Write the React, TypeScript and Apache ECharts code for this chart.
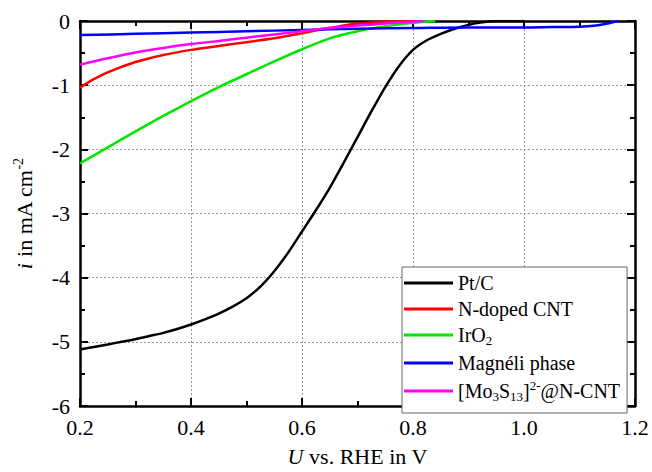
import React, { useEffect, useRef } from "react";
import * as echarts from "echarts";

const seriesNames = ["Pt/C", "N-doped CNT", "IrO2", "Magnéli phase", "[Mo3S13]2-@N-CNT"];
const legendLabels = [
  "Pt/C",
  "N-doped CNT",
  "IrO{sub|2}",
  "Magnéli phase",
  "[Mo{sub|3}S{sub|13}]{sup|2-}@N-CNT",
];
const seriesColors = ["#000000", "#ff0000", "#00e600", "#0000ff", "#ff00ff"];

const ptcX = [0.2, 0.225, 0.25, 0.275, 0.3, 0.325, 0.35, 0.375, 0.4, 0.425, 0.45, 0.475, 0.5, 0.525, 0.55, 0.575, 0.6, 0.625, 0.65, 0.675, 0.7, 0.725, 0.75, 0.775, 0.8, 0.825, 0.85, 0.875, 0.9, 0.925, 0.95, 1.0];
const ptcY = [-5.12, -5.08, -5.04, -5.0, -4.96, -4.91, -4.86, -4.8, -4.73, -4.65, -4.56, -4.45, -4.32, -4.14, -3.9, -3.61, -3.28, -2.95, -2.6, -2.21, -1.81, -1.41, -1.03, -0.7, -0.45, -0.3, -0.2, -0.12, -0.06, -0.02, 0, 0];

const ncntX = [0.2, 0.22, 0.25, 0.3, 0.35, 0.4, 0.45, 0.5, 0.55, 0.6, 0.65, 0.7, 0.75, 0.8];
const ncntY = [-1.04, -0.93, -0.8, -0.64, -0.53, -0.45, -0.39, -0.33, -0.27, -0.19, -0.11, -0.04, -0.01, 0];

const iro2X = [0.2, 0.25, 0.3, 0.35, 0.4, 0.45, 0.5, 0.55, 0.6, 0.65, 0.7, 0.75, 0.8, 0.84];
const iro2Y = [-2.22, -1.97, -1.72, -1.48, -1.25, -1.03, -0.83, -0.63, -0.44, -0.27, -0.16, -0.08, -0.03, 0];

const magX = [0.2, 0.3, 0.4, 0.5, 0.6, 0.7, 0.8, 0.9, 1.0, 1.05, 1.1, 1.13, 1.15, 1.17];
const magY = [-0.22, -0.2, -0.18, -0.16, -0.14, -0.12, -0.11, -0.1, -0.1, -0.095, -0.09, -0.07, -0.04, 0];

const moX = [0.2, 0.25, 0.3, 0.35, 0.4, 0.45, 0.5, 0.55, 0.6, 0.65, 0.7, 0.75, 0.8, 0.82];
const moY = [-0.68, -0.58, -0.49, -0.42, -0.36, -0.31, -0.26, -0.21, -0.16, -0.11, -0.07, -0.04, -0.01, 0];

const allX = [ptcX, ncntX, iro2X, magX, moX];
const allY = [ptcY, ncntY, iro2Y, magY, moY];

const FONT = "'Liberation Serif', 'Times New Roman', serif";

export default function App() {
  const ref = useRef<HTMLDivElement>(null);
  useEffect(() => {
    if (!ref.current) return;
    const chart = echarts.init(ref.current, null, { renderer: "svg" });
    const axisCommon = {
      type: "value" as const,
      axisLine: { show: true, onZero: false, lineStyle: { color: "#000", width: 2.5 } },
      axisTick: { show: true, inside: true, length: 8, lineStyle: { color: "#000", width: 2 } },
      minorTick: { show: true, splitNumber: 2, length: 5, lineStyle: { color: "#000", width: 2 } },
    };
    const option: any = {
      animation: false,
      backgroundColor: "#fff",
      textStyle: { fontFamily: FONT },
      grid: { left: 80, right: 17, top: 21, bottom: 55 },
      xAxis: [
        {
          ...axisCommon,
          min: 0.2,
          max: 1.2,
          interval: 0.2,
          position: "bottom",
          axisLabel: {
            show: true,
            color: "#000",
            fontFamily: FONT,
            fontSize: 22,
            margin: 10,
            formatter: (v: number) => v.toFixed(1),
          },
          splitLine: { show: true, lineStyle: { color: "#999", type: [2, 2], width: 1 } },
          name: "{it|U} vs. RHE in V",
          nameLocation: "middle",
          nameGap: 39,
          nameTextStyle: {
            color: "#000",
            fontFamily: FONT,
            fontSize: 22,
            rich: { it: { fontStyle: "italic", fontFamily: FONT, fontSize: 22, color: "#000" } },
          },
        },
        {
          ...axisCommon,
          min: 0.2,
          max: 1.2,
          interval: 0.2,
          position: "top",
          axisLabel: { show: false },
          splitLine: { show: false },
        },
      ],
      yAxis: [
        {
          ...axisCommon,
          min: -6,
          max: 0,
          interval: 1,
          position: "left",
          axisLabel: {
            show: true,
            color: "#000",
            fontFamily: FONT,
            fontSize: 22,
            margin: 10,
            formatter: (v: number) => (v < 0 ? "-" + Math.abs(v) : String(v)),
          },
          splitLine: { show: true, lineStyle: { color: "#999", type: [2, 2], width: 1 } },
          name: "{it|i} in mA cm{sup|-2}",
          nameLocation: "middle",
          nameRotate: 90,
          nameGap: 43,
          nameTextStyle: {
            color: "#000",
            fontFamily: FONT,
            fontSize: 22,
            rich: {
              it: { fontStyle: "italic", fontFamily: FONT, fontSize: 22, color: "#000" },
              sup: { fontFamily: FONT, fontSize: 14, color: "#000", padding: [0, 0, 12, 0] },
            },
          },
        },
        {
          ...axisCommon,
          min: -6,
          max: 0,
          interval: 1,
          position: "right",
          axisLabel: { show: false },
          splitLine: { show: false },
        },
      ],
      legend: {
        orient: "vertical",
        left: 402,
        top: 267,
        backgroundColor: "#fff",
        borderColor: "#666",
        borderWidth: 1,
        borderRadius: 0,
        padding: [6, 7, 10, 2],
        itemGap: 6,
        itemWidth: 49,
        itemHeight: 3,
        icon: "rect",
        data: seriesNames,
        formatter: (name: string) => legendLabels[seriesNames.indexOf(name)],
        textStyle: {
          color: "#000",
          fontFamily: FONT,
          fontSize: 20,
          rich: {
            sub: { fontFamily: FONT, fontSize: 13, color: "#000", padding: [11, 0, 0, 0] },
            sup: { fontFamily: FONT, fontSize: 13, color: "#000", padding: [0, 0, 11, 0] },
          },
        },
      },
      series: seriesNames.map((name, i) => ({
        name,
        type: "line",
        xAxisIndex: 0,
        yAxisIndex: 0,
        data: allX[i].map((x, j) => [x, allY[i][j]]),
        showSymbol: false,
        smooth: 0.3,
        lineStyle: { color: seriesColors[i], width: 2.5 },
        itemStyle: { color: seriesColors[i] },
        z: 3,
      })),
    };
    chart.setOption(option);
    return () => chart.dispose();
  }, []);
  return <div ref={ref} style={{ width: 652, height: 472, position: "absolute", left: 0, top: 0 }} />;
}
